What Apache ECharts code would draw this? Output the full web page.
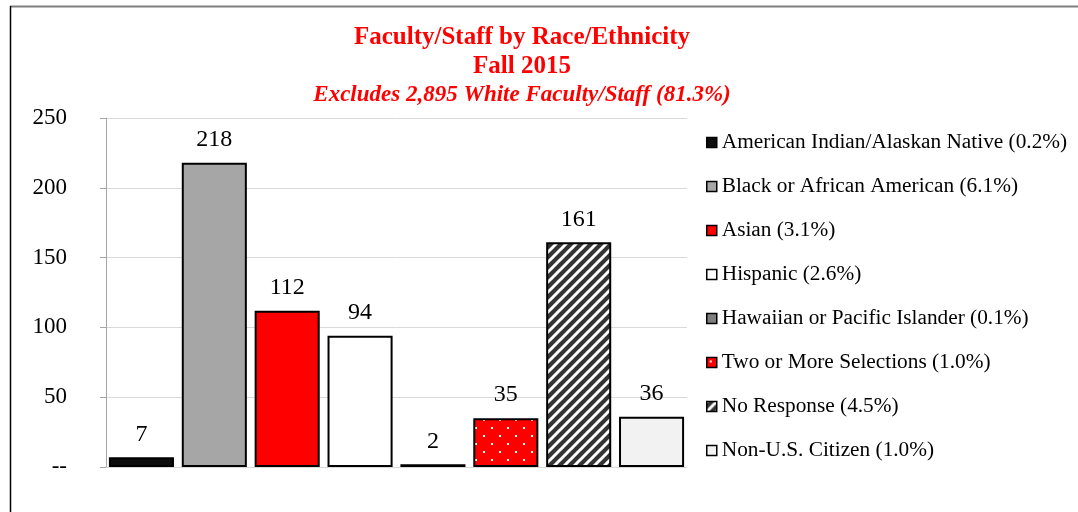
<!DOCTYPE html>
<html>
<head>
<meta charset="utf-8">
<script src="https://cdn.jsdelivr.net/npm/echarts@6/dist/echarts.min.js"></script>
<style>
  html, body { margin: 0; padding: 0; background: #fff; }
  #chart { width: 1078px; height: 512px; }
</style>
</head>
<body>
<div id="chart"></div>
<script>
// chart data
const groups = [
  'American Indian/Alaskan Native (0.2%)',
  'Black or African American (6.1%)',
  'Asian (3.1%)',
  'Hispanic (2.6%)',
  'Hawaiian or Pacific Islander (0.1%)',
  'Two or More Selections (1.0%)',
  'No Response (4.5%)',
  'Non-U.S. Citizen (1.0%)'
];
const counts = [7, 218, 112, 94, 2, 35, 161, 36];
const yTicks = [0, 50, 100, 150, 200, 250];

const titleLines = [
  'Faculty/Staff by Race/Ethnicity',
  'Fall 2015',
  'Excludes 2,895 White Faculty/Staff (81.3%)'
];

const serif = '"Liberation Serif", "Times New Roman", serif';

// pattern fills
const makeStripes = () => {
  const c = document.createElement('canvas');
  c.width = 10; c.height = 10;
  const ctx = c.getContext('2d');
  ctx.fillStyle = '#333333';
  ctx.fillRect(0, 0, 10, 10);
  ctx.strokeStyle = '#ffffff';
  ctx.lineWidth = 3;
  [[-5, 5, 5, -5], [0, 10, 10, 0], [5, 15, 15, 5]].forEach(([a, b, d, e]) => {
    ctx.beginPath();
    ctx.moveTo(a, b);
    ctx.lineTo(d, e);
    ctx.stroke();
  });
  return c;
};

const makeDots = () => {
  const c = document.createElement('canvas');
  c.width = 16; c.height = 16;
  const ctx = c.getContext('2d');
  ctx.fillStyle = '#ff0000';
  ctx.fillRect(0, 0, 16, 16);
  ctx.fillStyle = '#ffffff';
  ctx.fillRect(3, 3, 2, 2);
  ctx.fillRect(11, 11, 2, 2);
  return c;
};

const fills = [
  '#0d0d0d',
  '#a6a6a6',
  '#ff0000',
  '#ffffff',
  '#7f7f7f',
  { image: makeDots(), repeat: 'repeat' },
  { image: makeStripes(), repeat: 'repeat' },
  '#f2f2f2'
];

const chart = echarts.init(document.getElementById('chart'));

const series = groups.map((name, i) => ({
  name: name,
  type: 'bar',
  data: [counts[i]],
  barGap: '12%',
  barCategoryGap: '1%',
  itemStyle: {
    color: fills[i],
    borderColor: '#000',
    borderWidth: 2
  },
  label: {
    show: true,
    position: 'top',
    distance: 11,
    fontFamily: serif,
    fontSize: 24,
    color: '#000'
  },
  emphasis: { disabled: true }
}));

const titleStyles = [
  { y: 38, fontSize: 25, fontWeight: 'bold', fontStyle: 'normal' },
  { y: 67, fontSize: 25, fontWeight: 'bold', fontStyle: 'normal' },
  { y: 95, fontSize: 23, fontWeight: 'bold', fontStyle: 'italic' }
];

const option = {
  animation: false,
  backgroundColor: '#fff',
  grid: { left: 106, right: 391, top: 118, bottom: 45 },
  xAxis: {
    type: 'category',
    data: [''],
    axisLine: { lineStyle: { color: '#d9d9d9', width: 1 } },
    axisTick: { show: false },
    axisLabel: { show: false }
  },
  yAxis: {
    type: 'value',
    min: yTicks[0],
    max: yTicks[yTicks.length - 1],
    interval: 50,
    axisLine: { show: true, lineStyle: { color: '#a6a6a6', width: 1 } },
    axisTick: { show: true, length: 6, lineStyle: { color: '#a6a6a6' } },
    splitLine: { lineStyle: { color: '#d9d9d9', width: 1 } },
    axisLabel: {
      margin: 39,
      fontFamily: serif,
      fontSize: 23,
      color: '#000',
      formatter: (v) => (v === 0 ? '--' : String(v))
    }
  },
  legend: {
    orient: 'vertical',
    left: 706,
    top: 132,
    padding: 0,
    icon: 'rect',
    itemWidth: 10,
    itemHeight: 10,
    itemGap: 23,
    itemStyle: { borderWidth: 1.5, borderColor: '#000' },
    textStyle: {
      fontFamily: serif,
      fontSize: 21.3,
      lineHeight: 21,
      color: '#000'
    },
    selectedMode: false
  },
  graphic: [
    // frame edges
    { type: 'line', shape: { x1: 10, y1: 6.5, x2: 1078, y2: 6.5 }, style: { stroke: '#7f7f7f', lineWidth: 2 } },
    { type: 'line', shape: { x1: 10.5, y1: 6, x2: 10.5, y2: 512 }, style: { stroke: '#000', lineWidth: 1.5 } }
  ].concat(titleLines.map((t, i) => ({
    type: 'text',
    x: 522,
    y: titleStyles[i].y,
    style: {
      text: t,
      fill: '#ff0000',
      fontFamily: serif,
      fontSize: titleStyles[i].fontSize,
      fontWeight: titleStyles[i].fontWeight,
      fontStyle: titleStyles[i].fontStyle,
      align: 'center',
      verticalAlign: 'middle'
    }
  }))),
  series: series
};

chart.setOption(option);
</script>
</body>
</html>
